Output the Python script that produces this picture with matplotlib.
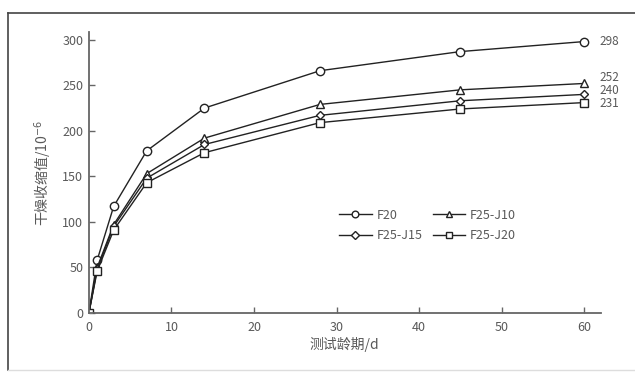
import matplotlib.pyplot as plt
from matplotlib.lines import Line2D

plt.rcParams['font.family'] = ['Noto Sans CJK SC', 'DejaVu Sans']

days = [0, 1, 3, 7, 14, 28, 45, 60]
f20 = [0, 58, 117, 178, 225, 266, 287, 298]
f25_j10 = [0, 50, 97, 153, 192, 229, 245, 252]
f25_j15 = [0, 48, 95, 148, 185, 217, 233, 240]
f25_j20 = [0, 46, 91, 143, 176, 209, 224, 231]
names = ['F20', 'F25-J10', 'F25-J15', 'F25-J20']
markers = ['o', '^', 'D', 's']
sizes = [6, 6, 4.5, 6]
end_offsets = [0, 4.5, 3, -1]

gray = '#595959'
fig = plt.figure(figsize=(6.35, 3.72), dpi=100)
ax = fig.add_axes([0.140, 0.1586, 0.806, 0.7554])

series = [f20, f25_j10, f25_j15, f25_j20]
handles = []
for vals, name, m, ms in zip(series, names, markers, sizes):
    h, = ax.plot(days, vals, color='#222222', lw=1.0, marker=m, ms=ms,
                 mfc='white', mec='#222222', mew=1.0, label=name)
    handles.append(h)

for vals, off in zip(series, end_offsets):
    ax.annotate(str(vals[-1]), (days[-1], vals[-1]), xytext=(11, off),
                textcoords='offset points', va='center', ha='left',
                fontsize=8.5, color=gray, annotation_clip=False)

ax.set_xlim(0, 62)
ax.set_ylim(0, 308.5)
ax.set_xticks(range(0, 61, 10))
ax.set_yticks(range(0, 301, 50))
for s in ['top', 'right']:
    ax.spines[s].set_visible(False)
for s in ['left', 'bottom']:
    ax.spines[s].set_color('#666666')
    ax.spines[s].set_linewidth(1.3)
ax.tick_params(direction='in', length=4, width=1, color='#666666',
               labelsize=9, labelcolor=gray)
ax.tick_params(axis='x', pad=6)
ax.tick_params(axis='y', pad=4)
ax.set_xlabel('测试龄期/d', fontsize=10, color=gray, labelpad=2)
ax.set_ylabel('干燥收缩值/10$^{-6}$', fontsize=10, color=gray, labelpad=6)

# legend filled row by row: F20, F25-J10 / F25-J15, F25-J20
order = [0, 2, 1, 3]
ax.legend([handles[i] for i in order], [names[i] for i in order],
          ncol=2, frameon=False, fontsize=9, labelcolor=gray,
          loc='center left', bbox_to_anchor=(30.3, 96),
          bbox_transform=ax.transData, borderpad=0, borderaxespad=0,
          handlelength=2.6, columnspacing=0.8, handletextpad=0.4,
          labelspacing=0.6, markerscale=0.8)

# chart frame
fc = '#444444'
fig.add_artist(Line2D([8/635, 8/635], [2/372, 1 - 13/372], color=fc, lw=1.2, transform=fig.transFigure))
fig.add_artist(Line2D([8/635, 1], [1 - 13/372, 1 - 13/372], color=fc, lw=1.2, transform=fig.transFigure))
fig.add_artist(Line2D([8/635, 1], [2/372, 2/372], color='#dddddd', lw=1.0, transform=fig.transFigure))

fig.savefig('out.png', dpi=100)
